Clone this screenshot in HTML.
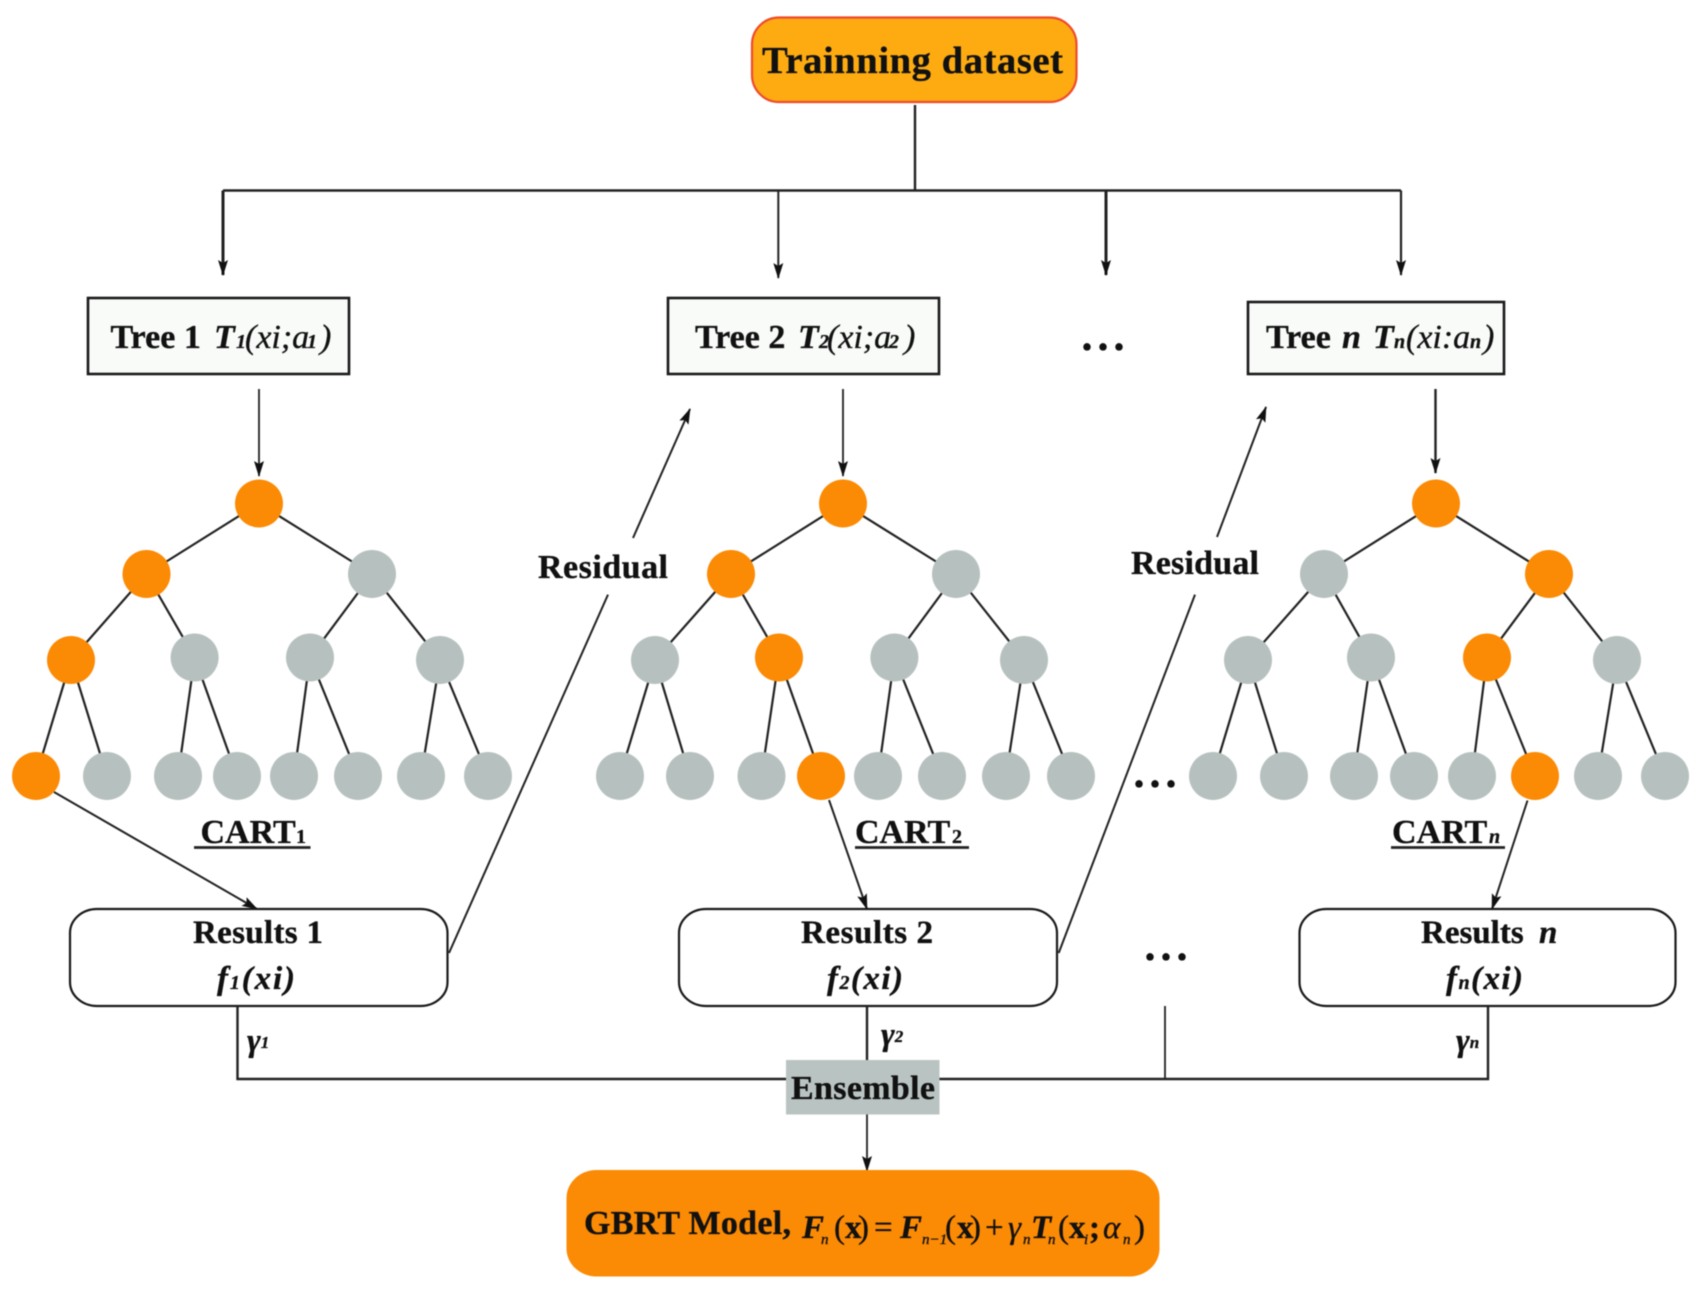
<!DOCTYPE html>
<html lang="en"><head><meta charset="utf-8"><title>GBRT diagram</title>
<style>
html,body{margin:0;padding:0;background:#fff}
svg{display:block;filter:blur(.6px)}
text{font-family:"Liberation Serif",serif;fill:#111;stroke:#111;stroke-width:.35px}
.b{font-weight:bold}
.i{font-style:italic}
.bi{font-weight:bold;font-style:italic}
</style></head><body>
<svg width="1700" height="1292" viewBox="0 0 1700 1292" xmlns="http://www.w3.org/2000/svg">
<defs>
<marker id="a" markerUnits="userSpaceOnUse" markerWidth="16" markerHeight="10" refX="15" refY="5" orient="auto" viewBox="0 0 16 10"><path d="M0 0L16 5L0 10L3 5Z" fill="#111"/></marker>
</defs>
<rect width="1700" height="1292" fill="#fff"/>

<!-- top -->
<rect x="752" y="17.5" width="324.5" height="84.5" rx="27" ry="27" fill="#fdab11" stroke="#ef4a2c" stroke-width="2.2"/>
<text class="b" x="762" y="73" font-size="38.5" textLength="301" lengthAdjust="spacing">Trainning dataset</text>
<g fill="none" stroke="#222" stroke-width="2.4">
<path d="M915 105V190.5M223 190.5H1401"/>
<path d="M223 190.5V275" stroke-width="3" marker-end="url(#a)"/>
<path d="M778.3 190.5V278" stroke-width="2" marker-end="url(#a)"/>
<path d="M1106 190.5V275" stroke-width="3" marker-end="url(#a)"/>
<path d="M1401 190.5V275" stroke-width="2.2" marker-end="url(#a)"/>
</g>

<!-- tree boxes -->
<g fill="#f9fbf9" stroke="#1a1a1a" stroke-width="2.6">
<rect x="88" y="298" width="261" height="76"/>
<rect x="668" y="298" width="271" height="76"/>
<rect x="1248" y="302" width="256" height="72"/>
</g>
<text x="110.5" y="348" font-size="34"><tspan class="b">Tree 1</tspan><tspan class="bi" x="214">T</tspan><tspan class="bi" x="236" font-size="20">1</tspan><tspan class="i" x="245">(xi;a</tspan><tspan class="bi" x="307" font-size="20">1</tspan><tspan class="i" x="320">)</tspan></text>
<text x="695" y="348" font-size="34"><tspan class="b">Tree 2</tspan><tspan class="bi" x="798">T</tspan><tspan class="bi" x="819" font-size="20">2</tspan><tspan class="i" x="827">(xi;a</tspan><tspan class="bi" x="889" font-size="20">2</tspan><tspan class="i" x="904">)</tspan></text>
<text x="1266" y="348" font-size="34"><tspan class="b">Tree</tspan><tspan class="bi" x="1342">n</tspan><tspan class="bi" x="1373">T</tspan><tspan class="bi" x="1394" font-size="20">n</tspan><tspan class="i" x="1406">(xi:a</tspan><tspan class="bi" x="1470" font-size="20">n</tspan><tspan class="i" x="1483">)</tspan></text>
<text class="b" x="1081.5" y="350" font-size="44" letter-spacing="5">...</text>

<!-- tree arrows -->
<g fill="none" stroke="#222" stroke-width="1.8">
<path d="M259 389V476" marker-end="url(#a)"/>
<path d="M843 389V476" marker-end="url(#a)"/>
<path d="M1435.5 389V473" stroke-width="2.4" marker-end="url(#a)"/>
</g>

<!-- tree edges -->
<g fill="none" stroke="#222" stroke-width="2.2">
<path d="M259 503.5L146.5 574M259 503.5L372 574M146.5 574L71 660M146.5 574L194.6 657.5M372 574L310 657.5M372 574L440 660M71 660L36 776M71 660L107 776M194.6 657.5L178 776M194.6 657.5L237 776M310 657.5L294 776M310 657.5L358 776M440 660L421 776M440 660L488 776"/>
<path d="M843 503.5L731 574M843 503.5L956 574M731 574L655 660M731 574L779 657.5M956 574L894.4 657.5M956 574L1024 660M655 660L620 776M655 660L690 776M779 657.5L761.5 776M779 657.5L821 776M894.4 657.5L878 776M894.4 657.5L942 776M1024 660L1006 776M1024 660L1071 776"/>
<path d="M1436 503.5L1324 574M1436 503.5L1549 574M1324 574L1248 660M1324 574L1371 657.5M1549 574L1487 657.5M1549 574L1617 660M1248 660L1213 776M1248 660L1284 776M1371 657.5L1354 776M1371 657.5L1414 776M1487 657.5L1472 776M1487 657.5L1535 776M1617 660L1598 776M1617 660L1665 776"/>
</g>

<!-- nodes -->
<g fill="#b6c1bf">
<circle cx="372" cy="574" r="24"/><circle cx="956" cy="574" r="24"/><circle cx="1324" cy="574" r="24"/>
<circle cx="194.6" cy="657.5" r="24"/><circle cx="310" cy="657.5" r="24"/><circle cx="440" cy="660" r="24"/>
<circle cx="655" cy="660" r="24"/><circle cx="894.4" cy="657.5" r="24"/><circle cx="1024" cy="660" r="24"/>
<circle cx="1248" cy="660" r="24"/><circle cx="1371" cy="657.5" r="24"/><circle cx="1617" cy="660" r="24"/>
<circle cx="107" cy="776" r="24"/><circle cx="178" cy="776" r="24"/><circle cx="237" cy="776" r="24"/><circle cx="294" cy="776" r="24"/><circle cx="358" cy="776" r="24"/><circle cx="421" cy="776" r="24"/><circle cx="488" cy="776" r="24"/>
<circle cx="620" cy="776" r="24"/><circle cx="690" cy="776" r="24"/><circle cx="761.5" cy="776" r="24"/><circle cx="878" cy="776" r="24"/><circle cx="942" cy="776" r="24"/><circle cx="1006" cy="776" r="24"/><circle cx="1071" cy="776" r="24"/>
<circle cx="1213" cy="776" r="24"/><circle cx="1284" cy="776" r="24"/><circle cx="1354" cy="776" r="24"/><circle cx="1414" cy="776" r="24"/><circle cx="1472" cy="776" r="24"/><circle cx="1598" cy="776" r="24"/><circle cx="1665" cy="776" r="24"/>
</g>
<g fill="#fb8a05">
<circle cx="259" cy="503.5" r="24"/><circle cx="843" cy="503.5" r="24"/><circle cx="1436" cy="503.5" r="24"/>
<circle cx="146.5" cy="574" r="24"/><circle cx="731" cy="574" r="24"/><circle cx="1549" cy="574" r="24"/>
<circle cx="71" cy="660" r="24"/><circle cx="779" cy="657.5" r="24"/><circle cx="1487" cy="657.5" r="24"/>
<circle cx="36" cy="776" r="24"/><circle cx="821" cy="776" r="24"/><circle cx="1535" cy="776" r="24"/>
</g>

<text class="b" x="1133.5" y="787" font-size="44" letter-spacing="5">...</text>

<!-- CART labels -->
<text x="200.5" y="843" font-size="34"><tspan class="b">CART</tspan><tspan class="b" x="296" font-size="20">1</tspan></text>
<text x="855" y="843" font-size="34"><tspan class="b">CART</tspan><tspan class="b" x="952" font-size="20">2</tspan></text>
<text x="1392" y="843" font-size="34"><tspan class="b">CART</tspan><tspan class="bi" x="1489" font-size="20">n</tspan></text>
<g stroke="#222" stroke-width="2.8"><path d="M194 847.5H310.5M855 847.5H969M1391 847.5H1505"/></g>

<!-- results boxes -->
<g fill="#fff" stroke="#1a1a1a" stroke-width="2.2">
<rect x="70" y="909" width="377.5" height="97" rx="27" ry="24"/>
<rect x="679" y="909" width="378" height="97" rx="27" ry="24"/>
<rect x="1299.5" y="909" width="376" height="97" rx="27" ry="24"/>
</g>
<text class="b" x="193" y="943" font-size="33" textLength="130">Results 1</text>
<text class="b" x="801" y="943" font-size="33" textLength="132">Results 2</text>
<text x="1421" y="943" font-size="33"><tspan class="b">Results</tspan><tspan class="bi" x="1539">n</tspan></text>
<text x="217" y="989" font-size="33" class="bi" textLength="78">f<tspan font-size="20">1</tspan>(xi)</text>
<text x="827" y="989" font-size="33" class="bi" textLength="76">f<tspan font-size="20">2</tspan>(xi)</text>
<text x="1446" y="989" font-size="33" class="bi" textLength="77">f<tspan font-size="20">n</tspan>(xi)</text>
<text class="b" x="1144.5" y="960" font-size="44" letter-spacing="5">...</text>

<!-- long connectors -->
<g fill="none" stroke="#222" stroke-width="2">
<path d="M54 792L257 909" marker-end="url(#a)"/>
<path d="M829 800L867 909" marker-end="url(#a)"/>
<path d="M1527.5 800.5L1492 909" marker-end="url(#a)"/>
<path d="M449 953L608 594.6"/>
<path d="M633 538L690 409" marker-end="url(#a)"/>
<path d="M1058.7 953L1195 594.6"/>
<path d="M1217 537L1266 407" marker-end="url(#a)"/>
</g>
<text class="b" x="538" y="578" font-size="34" textLength="130">Residual</text>
<text class="b" x="1131" y="574" font-size="34" textLength="128">Residual</text>

<!-- ensemble -->
<g fill="none" stroke="#222" stroke-width="2.4">
<path d="M237.5 1006V1079H1488V1006"/>
<path d="M867 1006V1060"/>
<path d="M1165 1006V1079" stroke-width="1.8"/>
<path d="M867 1114V1171" stroke-width="1.8" marker-end="url(#a)"/>
</g>
<rect x="786" y="1060" width="153.5" height="54.5" fill="#b9c4c2"/>
<text class="b" x="791" y="1099" font-size="34" textLength="144">Ensemble</text>
<text x="247" y="1051" font-size="33" class="bi">γ<tspan font-size="17" dy="-3">1</tspan></text>
<text x="881" y="1045" font-size="33" class="bi">γ<tspan font-size="17" dy="-3">2</tspan></text>
<text x="1456" y="1051" font-size="33" class="bi">γ<tspan font-size="17" dy="-3">n</tspan></text>

<!-- GBRT -->
<rect x="566.5" y="1170" width="593" height="106.5" rx="30" ry="28" fill="#fb8a05"/>
<text class="b" x="584" y="1234" font-size="34" textLength="207">GBRT Model,</text>
<g font-size="33">
<text class="bi" x="802" y="1238">F</text><text class="i" x="821" y="1244" font-size="15">n</text>
<text x="834" y="1238">(</text><text class="b" x="845" y="1238">x</text><text x="858" y="1238">)</text>
<text x="874" y="1238">=</text>
<text class="bi" x="900" y="1238">F</text><text class="i" x="922" y="1244" font-size="15">n−1</text>
<text x="945" y="1238">(</text><text class="b" x="957" y="1238">x</text><text x="970" y="1238">)</text>
<text x="985" y="1238">+</text>
<text class="i" x="1008" y="1238">γ</text><text class="i" x="1023" y="1244" font-size="15">n</text>
<text class="bi" x="1031" y="1238">T</text><text class="i" x="1048" y="1244" font-size="15">n</text>
<text x="1058" y="1238">(</text><text class="b" x="1069" y="1238">x</text><text class="i" x="1084" y="1244" font-size="15">i</text>
<text class="b" x="1089" y="1238">;</text><text class="i" x="1103" y="1238">α</text><text class="i" x="1123" y="1244" font-size="15">n</text>
<text x="1134" y="1238">)</text>
</g>
</svg>
</body></html>
